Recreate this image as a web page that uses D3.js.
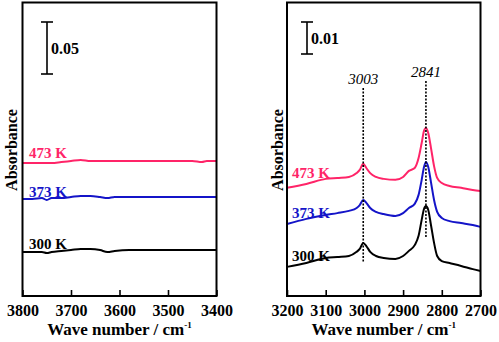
<!DOCTYPE html>
<html><head><meta charset="utf-8">
<script src="https://cdn.jsdelivr.net/npm/d3@7"></script>
<style>body{margin:0;background:#fff}svg{display:block}text{font-family:"Liberation Serif","Times New Roman",serif}</style>
</head><body>
<svg id="c" width="499" height="342"></svg>
<script>
// ---- data ----
const seriesNames = ["300 K", "373 K", "473 K"];
const seriesColors = ["#000000", "#1414c8", "#ff2468"];

const leftXTicks = [3800, 3700, 3600, 3500, 3400];
const rightXTicks = [3200, 3100, 3000, 2900, 2800, 2700];

const leftWn = [3800,3780,3760,3750,3740,3720,3700,3680,3660,3640,3625,3610,3580,3550,3500,3450,3430,3420,3400];
const left300 = [0.0423,0.0423,0.0423,0.0413,0.0423,0.0433,0.0442,0.0452,0.0452,0.0442,0.0423,0.0433,0.0442,0.0442,0.0442,0.0442,0.0442,0.0442,0.0442];
const left373 = [0.0933,0.0933,0.0942,0.0923,0.0942,0.0942,0.0952,0.0962,0.0962,0.0952,0.0942,0.0952,0.0952,0.0952,0.0952,0.0952,0.0952,0.0952,0.0952];
const left473 = [0.1279,0.1279,0.1279,0.1279,0.1279,0.1288,0.1298,0.1308,0.1298,0.1298,0.1298,0.1298,0.1298,0.1298,0.1298,0.1298,0.1288,0.1298,0.1298];

const rightWn = [3200,3150,3100,3070,3040,3020,3012,3003,2995,2985,2970,2950,2920,2900,2885,2870,2860,2852,2846,2841,2835,2828,2820,2812,2800,2780,2750,2720,2700];
const right300 = [0.0091,0.0103,0.0119,0.0122,0.0125,0.0138,0.0147,0.0166,0.0156,0.0138,0.0125,0.0119,0.0116,0.0125,0.0141,0.0159,0.0188,0.0238,0.0272,0.0281,0.0269,0.0222,0.0166,0.0125,0.0109,0.0103,0.0094,0.0084,0.0078];
const right373 = [0.0225,0.0241,0.0253,0.0259,0.0266,0.0275,0.0284,0.0300,0.0291,0.0275,0.0263,0.0256,0.0250,0.0259,0.0275,0.0288,0.0316,0.0363,0.0403,0.0419,0.0403,0.0356,0.0300,0.0263,0.0244,0.0234,0.0228,0.0222,0.0216];
const right473 = [0.0338,0.0350,0.0366,0.0369,0.0372,0.0384,0.0394,0.0413,0.0400,0.0384,0.0372,0.0366,0.0363,0.0372,0.0391,0.0400,0.0431,0.0478,0.0516,0.0525,0.0509,0.0463,0.0406,0.0369,0.0353,0.0344,0.0338,0.0331,0.0328];

const peakMarks = [3003, 2841];
const leftScaleBar = 0.05, rightScaleBar = 0.01;

// ---- drawing ----
const svg = d3.select("#c");
const plotTop = 2.5, plotBottom = 296;

function panel(cfg) {
  const x = d3.scaleLinear().domain(cfg.xDomain).range([cfg.x0, cfg.x1]);
  const y = d3.scaleLinear().domain(cfg.yDomain).range([plotBottom, plotTop]);
  const g = svg.append("g");

  const ax = d3.axisBottom(x).tickValues(cfg.ticks).tickSizeInner(-6).tickSizeOuter(0).tickPadding(9)
    .tickFormat(d3.format("d"));
  const axg = g.append("g").attr("transform", `translate(0,${plotBottom})`).call(ax);
  axg.select(".domain").remove();
  axg.selectAll(".tick line").attr("stroke", "#000").attr("stroke-width", 1.6);
  axg.selectAll(".tick text").attr("fill", "#000").style("font-size", "16px").style("font-weight", "bold")
    .style("font-family", "'Liberation Serif', serif").attr("dy", "0.71em");

  const line = d3.line().x(d => x(d[0])).y(d => y(d[1])).curve(d3.curveMonotoneX);
  cfg.series.forEach((vals, i) => {
    g.append("path").datum(cfg.wn.map((w, k) => [w, vals[k]]))
      .attr("d", line).attr("fill", "none").attr("stroke", seriesColors[i]).attr("stroke-width", 2);
  });

  if (cfg.peaks) {
    cfg.peaks.forEach((p, i) => {
      g.append("line").attr("x1", x(p)).attr("x2", x(p)).attr("y1", cfg.peakTop[i]).attr("y2", cfg.peakBot[i])
        .attr("stroke", "#000").attr("stroke-width", 1.6).attr("stroke-dasharray", "2,1.5");
      g.append("text").attr("x", x(p)).attr("y", cfg.peakTop[i] - 4).attr("text-anchor", "middle")
        .style("font-size", "15px").style("font-style", "italic").text(p);
    });
  }

  cfg.series.forEach((vals, i) => {
    g.append("text").attr("x", cfg.x0 + cfg.labelDx).attr("y", y(vals[0]) + cfg.labelDy[i])
      .attr("fill", seriesColors[i]).style("font-size", "15px").style("font-weight", "bold").text(seriesNames[i]);
  });

  const yb0 = y(cfg.barTop), yb1 = y(cfg.barTop - cfg.bar);
  const bx = cfg.barX;
  g.append("line").attr("x1", bx).attr("x2", bx).attr("y1", yb0).attr("y2", yb1).attr("stroke", "#000").attr("stroke-width", 1.6);
  [yb0, yb1].forEach(v => g.append("line").attr("x1", bx - 6).attr("x2", bx + 6).attr("y1", v).attr("y2", v)
    .attr("stroke", "#000").attr("stroke-width", 1.6));
  g.append("text").attr("x", bx + 4).attr("y", (yb0 + yb1) / 2 + 6).style("font-size", "16px").style("font-weight", "bold")
    .text(cfg.bar.toFixed(2));

  g.append("rect").attr("x", cfg.x0).attr("y", plotTop).attr("width", cfg.x1 - cfg.x0).attr("height", plotBottom - plotTop)
    .attr("fill", "none").attr("stroke", "#000").attr("stroke-width", 2);

  g.append("text").attr("transform", `translate(${cfg.x0 - cfg.yTitleDx},150) rotate(-90)`).attr("text-anchor", "middle")
    .style("font-size", "16px").style("font-weight", "bold").text("Absorbance");

  const xt = g.append("text").attr("x", (cfg.x0 + cfg.x1) / 2).attr("y", 335).attr("text-anchor", "middle")
    .style("font-size", "17px").style("font-weight", "bold");
  xt.append("tspan").text("Wave number / cm");
  xt.append("tspan").attr("dy", -7).style("font-size", "9px").text("-1");
}

panel({
  x0: 22.5, x1: 216.5, xDomain: [3800, 3400], yDomain: [0, (plotBottom - plotTop) / 1040],
  ticks: leftXTicks, wn: leftWn, series: [left300, left373, left473], labelDx: 6.5,
  labelDy: [-3, -2, -5], bar: leftScaleBar, barTop: (plotBottom - 22) / 1040, barX: 47, yTitleDx: 6
});
panel({
  x0: 287, x1: 480.5, xDomain: [3200, 2700], yDomain: [0, (plotBottom - plotTop) / 3200],
  ticks: rightXTicks, wn: rightWn, series: [right300, right373, right473], labelDx: 5,
  labelDy: [-6, -6, -10], bar: rightScaleBar, barTop: (plotBottom - 22) / 3200, barX: 307, yTitleDx: 4,
  peaks: peakMarks, peakTop: [88, 81], peakBot: [263, 238]
});
</script>
</body></html>
